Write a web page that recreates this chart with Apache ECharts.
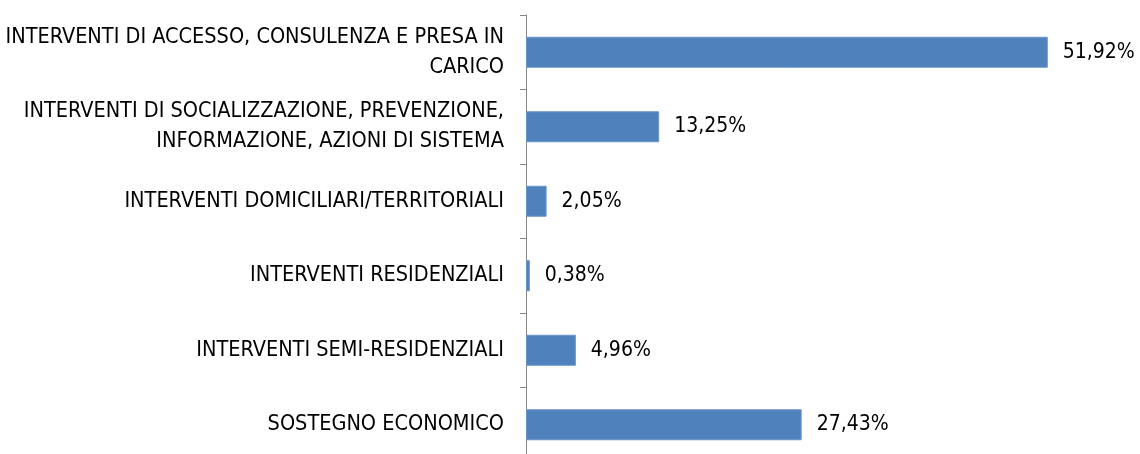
<!DOCTYPE html>
<html>
<head>
<meta charset="utf-8">
<script src="https://cdn.jsdelivr.net/npm/echarts@6/dist/echarts.min.js"></script>
<style>
  html, body { margin: 0; padding: 0; background: #fff; }
  #chart { width: 1140px; height: 454px; }
</style>
</head>
<body>
<div id="chart"></div>
<script>
// categorie (dall'alto verso il basso)
var categories = [
  'INTERVENTI DI ACCESSO, CONSULENZA E PRESA IN\nCARICO',
  'INTERVENTI DI SOCIALIZZAZIONE, PREVENZIONE,\nINFORMAZIONE, AZIONI DI SISTEMA',
  'INTERVENTI DOMICILIARI/TERRITORIALI',
  'INTERVENTI RESIDENZIALI',
  'INTERVENTI SEMI-RESIDENZIALI',
  'SOSTEGNO ECONOMICO'
]
// percentuali
var percentages = [51.92, 13.25, 2.05, 0.38, 4.96, 27.43]

var fontFamily = '"Liberation Sans Narrow", "DejaVu Sans Condensed", sans-serif'

var chart = echarts.init(document.getElementById('chart'))
chart.setOption({
  backgroundColor: '#fff',
  animation: false,
  grid: {
    left: 526,
    top: 15,
    width: 603,
    height: 447,
    outerBoundsMode: 'none'
  },
  xAxis: {
    type: 'value',
    min: 0,
    max: 60,
    show: false
  },
  yAxis: {
    type: 'category',
    inverse: true,
    data: categories,
    axisLine: {
      show: true,
      lineStyle: { color: '#868686', width: 1 }
    },
    axisTick: {
      show: true,
      inside: false,
      alignWithLabel: false,
      length: 6,
      lineStyle: { color: '#868686', width: 1 }
    },
    axisLabel: {
      margin: 22,
      color: '#000',
      fontFamily: fontFamily,
      fontSize: 21.5,
      lineHeight: 30,
      align: 'right'
    }
  },
  series: [{
    type: 'bar',
    data: percentages,
    barWidth: 31,
    itemStyle: {
      color: '#4F81BD',
      borderColor: '#6b95c8',
      borderWidth: 1
    },
    label: {
      show: true,
      position: 'right',
      distance: 15,
      color: '#000',
      fontFamily: fontFamily,
      fontSize: 21,
      formatter: function (p) {
        return p.value.toFixed(2).replace('.', ',') + '%'
      }
    }
  }]
})
</script>
</body>
</html>
